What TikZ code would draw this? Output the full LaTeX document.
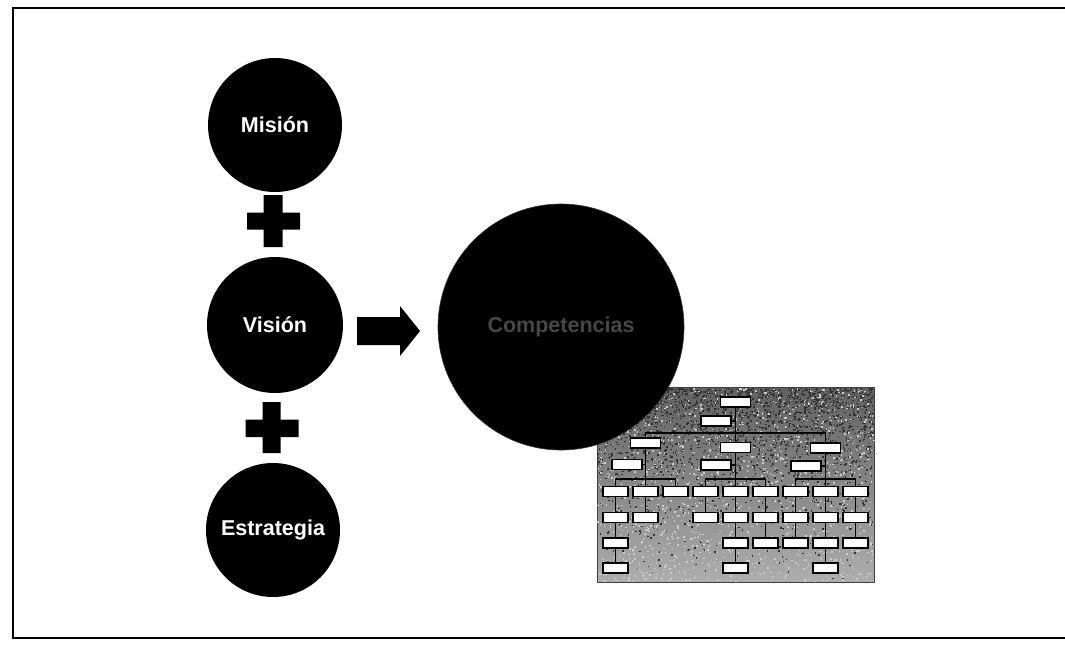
\documentclass[tikz,border=0pt]{standalone}
\usepackage{fontspec}
\setmainfont{Liberation Sans}
\usetikzlibrary{calc}

\begin{document}
\begin{tikzpicture}[x=1pt,y=-1pt,
  bigdisc/.style={circle, fill=black, inner sep=0pt, text=white,
                  font=\bfseries\fontsize{21.5}{24}\selectfont},
  orgbox/.style={draw=black, fill=white, line width=1.6pt, inner sep=0pt,
                 minimum width=25pt, minimum height=10pt},
  orgwide/.style={orgbox, minimum width=30pt},
  orgline/.style={draw=black, line width=1.6pt},
  framebar/.style={line width=1.6pt, draw=black}
]
\useasboundingbox (0,0) rectangle (1065,646);

% page frame
\draw[framebar] (1065,8) -- (13,8) -- (13,638) -- (1065,638);

% the three inputs
\node[bigdisc, minimum size=134pt] (mision)     at (275,125) {Misión};
\node[bigdisc, minimum size=136pt] (vision)     at (275,325) {Visión};
\node[bigdisc, minimum size=134pt] (estrategia) at (273,530) {Estrategia};

% plus signs between them
\fill (263.5,195) rectangle (282.5,247)   (247,212.5) rectangle (300,229.5);
\fill (262.5,402) rectangle (280.5,453)   (245.5,419.5) rectangle (298.5,437);

% block arrow towards the result
\fill (357,317) -- (400,317) -- (400,306) -- (420,331) -- (400,356)
      -- (400,345) -- (357,345) -- cycle;

% organisation chart on a grainy background
\shade[top color=black!62, bottom color=black!32, draw=black!75, line width=1pt]
  (597,387) rectangle (874,582);
\pgfmathsetseed{42}
\foreach \k in {1,...,2600}{
  \pgfmathsetmacro{\gx}{597+276*rnd}
  \pgfmathsetmacro{\gy}{388+193*rnd*rnd}
  \fill[black!80] (\gx,\gy) rectangle ++(1.5,1.5);
}
\foreach \k in {1,...,1400}{
  \pgfmathsetmacro{\gx}{597+276*rnd}
  \pgfmathsetmacro{\gy}{388+193*rnd}
  \fill[white!80!black] (\gx,\gy) rectangle ++(1.5,1.5);
}

\node[orgwide] (top)  at (735.5,402)   {};
\node[orgwide] (asst) at (716,421)     {};
\node[orgwide] (bl)   at (645.5,443)   {};
\node[orgwide] (bc)   at (735.5,447.5) {};
\node[orgwide] (br)   at (825.5,448)   {};
\node[orgwide] (al)   at (627,464.5)   {};
\node[orgwide] (ac)   at (716,465)     {};
\node[orgwide] (ar)   at (806,466)     {};

\foreach \c in {1,...,9}
  \node[orgbox] (r4c\c) at ({585.5+30*\c},491.5) {};
\foreach \c in {1,2,4,5,6,7,8,9}
  \node[orgbox] (r5c\c) at ({585.5+30*\c},517.5) {};
\foreach \c in {1,5,6,7,8,9}
  \node[orgbox] (r6c\c) at ({585.5+30*\c},543) {};
\foreach \c in {1,5,8}
  \node[orgbox] (r7c\c) at ({585.5+30*\c},568) {};

\coordinate (bus) at (735.5,433);
\coordinate (row) at (735.5,479);

\draw[orgline] (top) -- (bc);
\draw[orgline] (asst.east) -- (asst.east -| top);
\draw[orgline] (bl.north) -- (bl.north |- bus) -- (br.north |- bus) -- (br.north);
\draw[orgline] (al.east) -- (al.east -| bl);
\draw[orgline] (ac.east) -- (ac.east -| bc);
\draw[orgline] (ar.east) -- (ar.east -| br);

\draw[orgline] (bl.south) -- (r4c2.north);
\draw[orgline] (bc.south) -- (r4c5.north);
\draw[orgline] (br.south) -- (r4c8.north);
\foreach \a/\b in {1/3,4/6,7/9}
  \draw[orgline] (r4c\a.north) -- (r4c\a.north |- row) -- (r4c\b.north |- row) -- (r4c\b.north);

\foreach \c in {1,2,4,5,6,7,8,9}
  \draw[orgline] (r4c\c) -- (r5c\c);
\foreach \c in {1,5,6,7,8,9}
  \draw[orgline] (r5c\c) -- (r6c\c);
\foreach \c in {1,5,8}
  \draw[orgline] (r6c\c) -- (r7c\c);

% the result
\node[circle, fill=black, draw=black!80, line width=0.6pt, minimum size=246pt, inner sep=0pt,
      text=black!72, font=\bfseries\fontsize{21.5}{24}\selectfont] (comp) at (561,327) {Competencias};
\end{tikzpicture}
\end{document}
